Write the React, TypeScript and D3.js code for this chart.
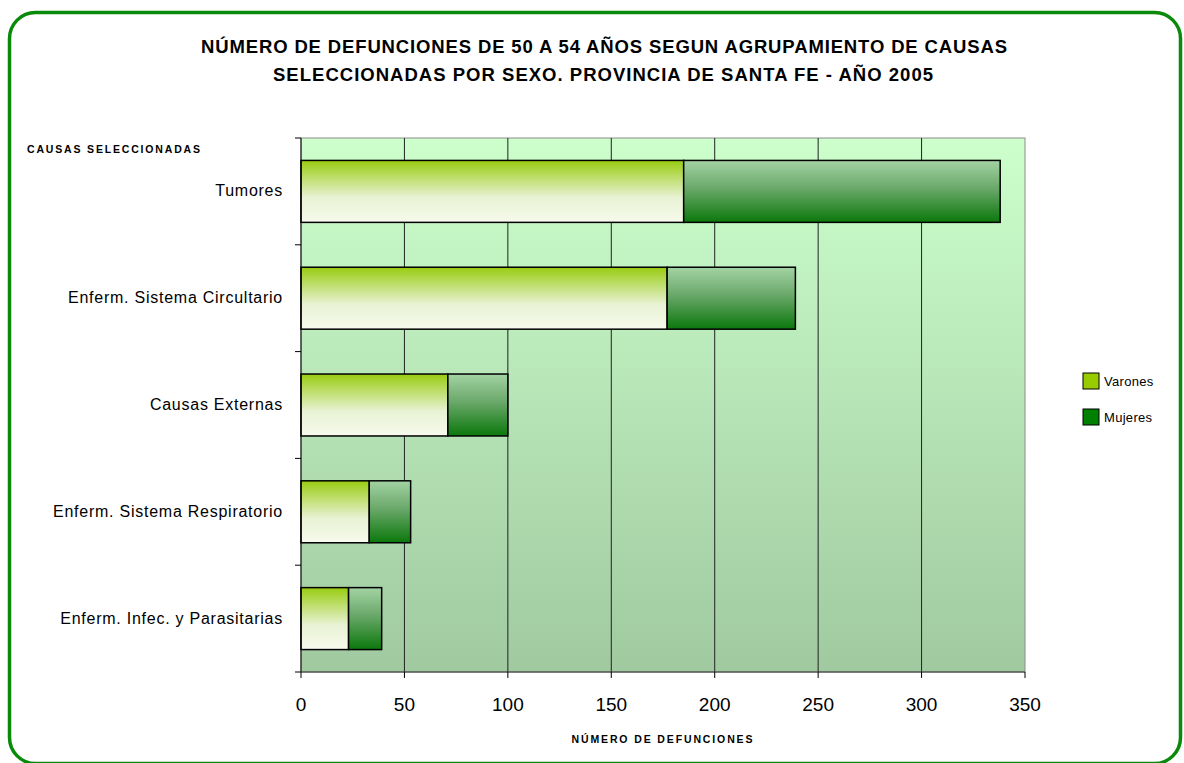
import * as d3 from "d3";

const categories = [
  "Tumores",
  "Enferm. Sistema Circultario",
  "Causas Externas",
  "Enferm. Sistema Respiratorio",
  "Enferm. Infec. y Parasitarias",
];
const varones = [185, 177, 71, 33, 23];
const mujeres = [153, 62, 29, 20, 16];
const xTicks = [0, 50, 100, 150, 200, 250, 300, 350];
const seriesNames = ["Varones", "Mujeres"];

const W = 1184;
const H = 763;
const plot = { left: 301, right: 1025, top: 138, bottom: 672 };
const font = "'Liberation Sans', Arial, sans-serif";

export default function App() {
  const x = d3.scaleLinear().domain([0, 350]).range([plot.left, plot.right]);
  const y = d3
    .scaleBand()
    .domain(categories)
    .range([plot.top, plot.bottom])
    .paddingInner(0.42)
    .paddingOuter(0.21);
  const bandEdges = d3.range(categories.length + 1).map(
    (i) => plot.top + (i * (plot.bottom - plot.top)) / categories.length
  );

  const rows = categories.map((c, i) => ({ c, v: varones[i], m: mujeres[i] }));

  return (
    <svg
      width={W}
      height={H}
      style={{ position: "absolute", left: 0, top: 0, background: "#fff" }}
      fontFamily={font}
    >
      <defs>
        <linearGradient id="bg" x1="0" y1="0" x2="0" y2="1">
          <stop offset="0" stopColor="#ccffcc" />
          <stop offset="1" stopColor="#a0c9a0" />
        </linearGradient>
        <linearGradient id="gV" x1="0" y1="0" x2="0" y2="1">
          <stop offset="0" stopColor="#99cc11" />
          <stop offset="0.6" stopColor="#e8f2d4" />
          <stop offset="1" stopColor="#f7faec" />
        </linearGradient>
        <linearGradient id="gM" x1="0" y1="0" x2="0" y2="1">
          <stop offset="0" stopColor="#a3d3a3" />
          <stop offset="0.45" stopColor="#6aa86a" />
          <stop offset="1" stopColor="#0b780b" />
        </linearGradient>
      </defs>

      <rect x={9.5} y={12.5} width={1171} height={751} rx={26} fill="#fff" stroke="#0a8a0a" strokeWidth={3.5} />

      <text x={604} y={53} textAnchor="middle" fontSize={18.5} fontWeight="bold" textLength={806} lengthAdjust="spacing">
        NÚMERO DE DEFUNCIONES DE 50 A 54 AÑOS SEGUN AGRUPAMIENTO DE CAUSAS
      </text>
      <text x={603} y={81} textAnchor="middle" fontSize={18.5} fontWeight="bold" textLength={660} lengthAdjust="spacing">
        SELECCIONADAS POR SEXO. PROVINCIA DE SANTA FE - AÑO 2005
      </text>

      <text x={27} y={153} fontSize={10.5} fontWeight="bold" textLength={173} lengthAdjust="spacing">
        CAUSAS SELECCIONADAS
      </text>

      <rect
        x={plot.left}
        y={plot.top}
        width={plot.right - plot.left}
        height={plot.bottom - plot.top}
        fill="url(#bg)"
        stroke="#8c8c8c"
        strokeWidth={1}
      />

      {xTicks.slice(1, -1).map((t) => (
        <line key={t} x1={x(t)} x2={x(t)} y1={plot.top} y2={plot.bottom} stroke="#222" strokeWidth={1} />
      ))}

      {rows.map((r) => {
        const y0 = y(r.c)!;
        const h = y.bandwidth();
        return (
          <g key={r.c} stroke="#000" strokeWidth={1.5}>
            <rect x={x(0)} y={y0} width={x(r.v) - x(0)} height={h} fill="url(#gV)" />
            <rect x={x(r.v)} y={y0} width={x(r.v + r.m) - x(r.v)} height={h} fill="url(#gM)" />
          </g>
        );
      })}

      {/* ejes */}
      <line x1={plot.left} x2={plot.left} y1={plot.top} y2={plot.bottom} stroke="#000" />
      <line x1={plot.left} x2={plot.right} y1={plot.bottom} y2={plot.bottom} stroke="#333" />
      {bandEdges.map((e, i) => (
        <line key={i} x1={plot.left - 6} x2={plot.left} y1={e} y2={e} stroke="#000" />
      ))}
      {xTicks.map((t) => (
        <g key={t}>
          <line x1={x(t)} x2={x(t)} y1={plot.bottom} y2={plot.bottom + 6} stroke="#000" />
          <text x={x(t)} y={711} textAnchor="middle" fontSize={19}>
            {t}
          </text>
        </g>
      ))}

      {categories.map((c) => (
        <text
          key={c}
          x={283}
          y={y(c)! + y.bandwidth() / 2 + 5}
          textAnchor="end"
          fontSize={16}
          letterSpacing={0.75}
        >
          {c}
        </text>
      ))}

      <text x={662} y={743} textAnchor="middle" fontSize={10.5} fontWeight="bold" textLength={181} lengthAdjust="spacing">
        NÚMERO DE DEFUNCIONES
      </text>

      {seriesNames.map((s, i) => (
        <g key={s}>
          <rect
            x={1083}
            y={373 + i * 36}
            width={16}
            height={16}
            fill={i === 0 ? "#99cc00" : "#008000"}
            stroke="#000"
            strokeWidth={1}
          />
          <text x={1104} y={386 + i * 36} fontSize={13} letterSpacing={0.3}>
            {s}
          </text>
        </g>
      ))}
    </svg>
  );
}
